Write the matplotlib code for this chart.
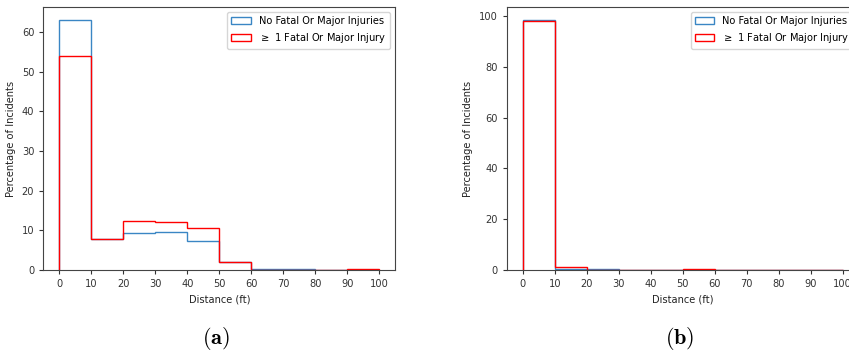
import numpy as np
import matplotlib
matplotlib.use("Agg")
import matplotlib.pyplot as plt

# 10 ft bins from 0 to 100
bin_edges = np.arange(0, 101, 10)

# percentage of incidents per distance bin, panel (a)
a_no_injury = [63.1, 7.9, 9.3, 9.5, 7.2, 2.0, 0.2, 0.2, 0.0, 0.0]
a_injury = [54.0, 7.9, 12.4, 12.1, 10.7, 2.0, 0.0, 0.0, 0.0, 0.35]

# percentage of incidents per distance bin, panel (b)
b_no_injury = [98.7, 0.5, 0.25, 0.0, 0.0, 0.1, 0.0, 0.0, 0.0, 0.0]
b_injury = [98.2, 1.07, 0.0, 0.0, 0.0, 0.3, 0.0, 0.0, 0.0, 0.0]

labels = ["No Fatal Or Major Injuries", r"$\geq$ 1 Fatal Or Major Injury"]
captions = ["(a)", "(b)"]

fs = 7.1
fig = plt.figure(figsize=(8.49, 3.51), dpi=100)
ax_a = fig.add_axes([0.0510, 0.2308, 0.4146, 0.7493])
ax_b = fig.add_axes([0.5968, 0.2308, 0.4146, 0.7493])

for ax, no_inj, inj, cap in [(ax_a, a_no_injury, a_injury, captions[0]),
                             (ax_b, b_no_injury, b_injury, captions[1])]:
    centers = bin_edges[:-1] + 5
    ax.hist(centers, bins=bin_edges, weights=no_inj, histtype="step",
            color="#3a86c4", linewidth=1.0, label=labels[0])
    ax.hist(centers, bins=bin_edges, weights=inj, histtype="step",
            color="red", linewidth=1.0, label=labels[1])
    ax.set_xticks(bin_edges)
    ax.tick_params(labelsize=fs, length=3, colors="#333333")
    ax.set_xlabel("Distance (ft)", fontsize=fs, color="#222222")
    ax.set_ylabel("Percentage of Incidents", fontsize=fs, color="#222222")
    ax.legend(loc="upper right", fontsize=fs)
    for s in ax.spines.values():
        s.set_color("#444444")
    pos = ax.get_position()
    fig.text(pos.x0 + 0.5 * 0.4146 - 0.004, 0.037, r"$\mathbf{" + cap + "}$",
             ha="center", va="center", fontsize=16, math_fontfamily="cm")

fig.savefig("out.png", dpi=100)
